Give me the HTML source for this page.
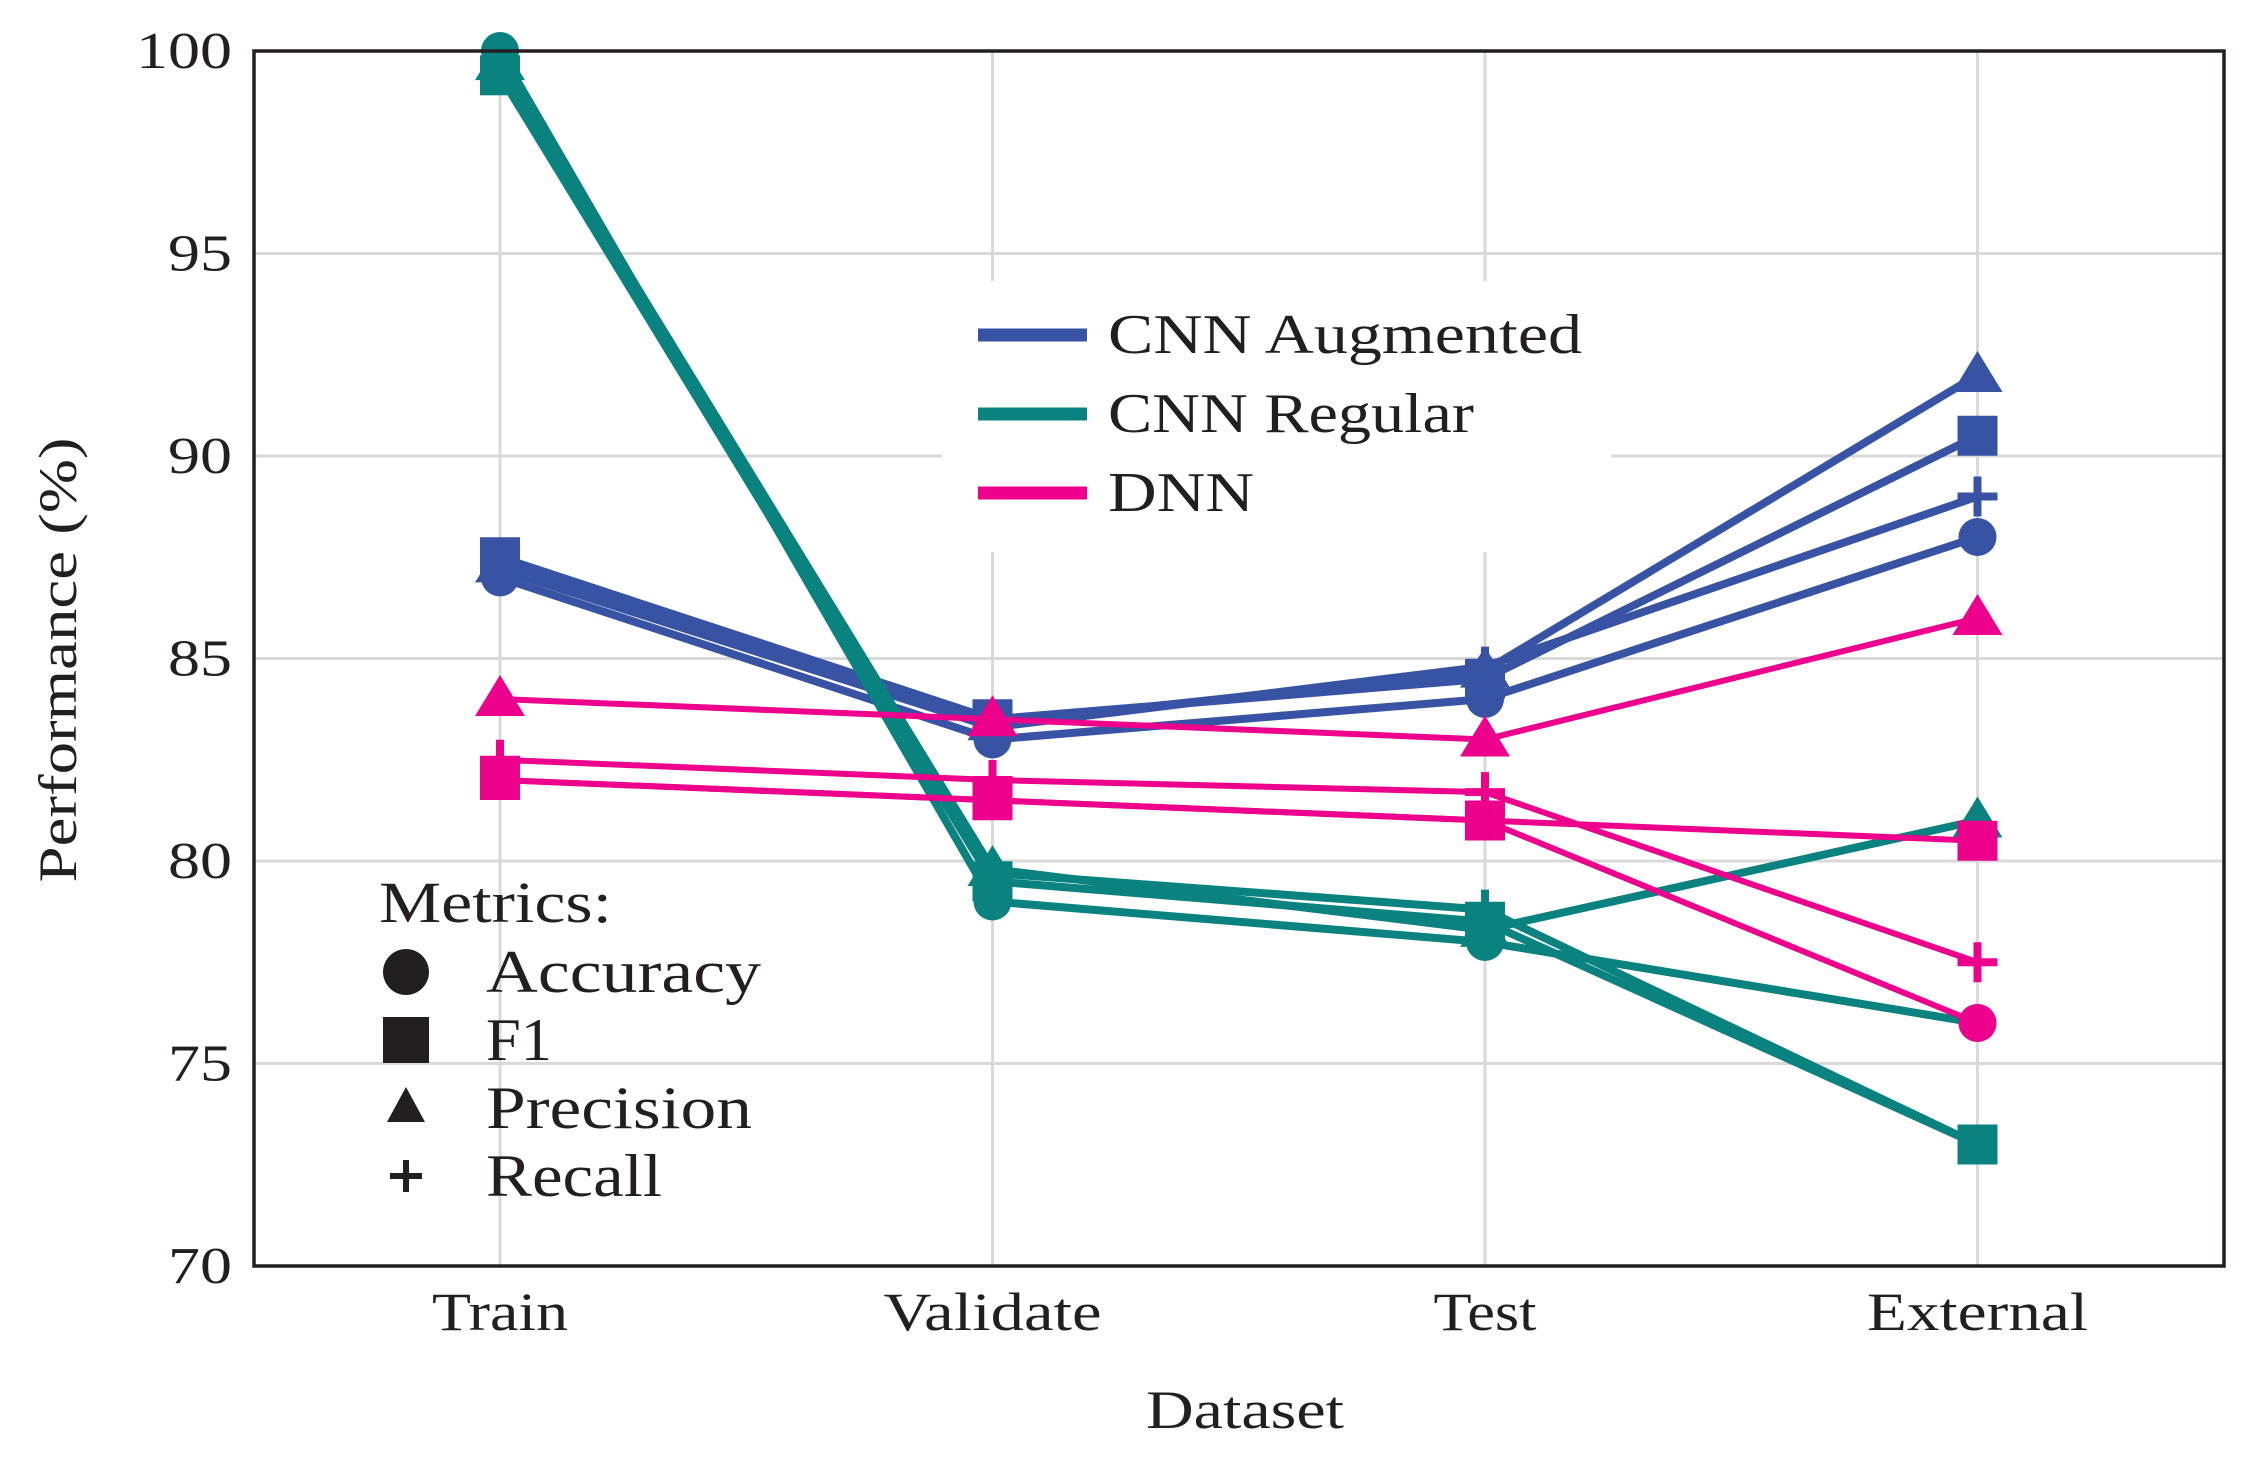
<!DOCTYPE html>
<html><head><meta charset="utf-8"><style>
html,body{margin:0;padding:0;background:#fff;}
svg{display:block;font-family:"Liberation Serif",serif;}
</style></head><body>
<svg id="chart" width="2256" height="1461" viewBox="0 0 2256 1461">
</svg>
<script>
const categories = ["Train","Validate","Test","External"];
const yTicks = [70,75,80,85,90,95,100];
const seriesNames = ["CNN Augmented","CNN Regular","DNN"];
const metricNames = ["Accuracy","F1","Precision","Recall"];
const augAccuracy = [87,83,84,88];
const augF1 = [87.5,83.5,84.5,90.5];
const augPrecision = [87.3,83.4,84.7,92];
const augRecall = [87.2,83.3,84.8,89];
const regAccuracy = [100,79,78,76];
const regF1 = [99.4,79.5,78.5,73];
const regPrecision = [99.7,79.8,78.3,81];
const regRecall = [99.6,79.7,78.8,73];
const dnnAccuracy = [82,81.5,81,76];
const dnnF1 = [82,81.5,81,80.5];
const dnnPrecision = [84,83.5,83,86];
const dnnRecall = [82.5,82,81.7,77.5];

const NS="http://www.w3.org/2000/svg";
const svg=document.getElementById('chart');
const L=254,R=2224,T=51,B=1266;
const x0=500,xStep=492.5;
function xs(i){return x0+i*xStep;}
function ys(v){return B-(v-70)/30*(B-T);}
function el(tag,attrs,parent){const e=document.createElementNS(NS,tag);for(const k in attrs)e.setAttribute(k,attrs[k]);(parent||svg).appendChild(e);return e;}
function fit(t,w){t.setAttribute('textLength',w);t.setAttribute('lengthAdjust','spacingAndGlyphs');}

const grid=el('g',{});


yTicks.forEach(v=>{const g=el('line',{x1:L,x2:R,y1:ys(v),y2:ys(v),stroke:'#d9d9d9','stroke-width':3},grid);

});
categories.forEach((c,i)=>{const g=el('line',{x1:xs(i),x2:xs(i),y1:T,y2:B,stroke:'#d9d9d9','stroke-width':3},grid);

});
const lb=el('rect',{x:942,y:281,width:669,height:271,fill:'#fff'});



const colors={"CNN Augmented":"#3853a4","CNN Regular":"#0a827f","DNN":"#ec008c"};
const widths={"CNN Augmented":8,"CNN Regular":8,"DNN":6};
const data={
 "CNN Augmented":[augAccuracy,augF1,augPrecision,augRecall],
 "CNN Regular":[regAccuracy,regF1,regPrecision,regRecall],
 "DNN":[dnnAccuracy,dnnF1,dnnPrecision,dnnRecall]};
function marker(kind,cx,cy,color,parent){
 let m;
 if(kind===0) m=el('circle',{cx:cx,cy:cy,r:19,fill:color},parent);
 else if(kind===1) m=el('rect',{x:cx-20,y:cy-20,width:40,height:40,fill:color},parent);
 else if(kind===2) m=el('polygon',{points:`${cx},${cy-24} ${cx+25},${cy+17} ${cx-25},${cy+17}`,fill:color},parent);
 else m=el('path',{d:`M${cx-20},${cy}H${cx+20}M${cx},${cy-20}V${cy+20}`,stroke:color,'stroke-width':8,fill:'none'},parent);
 return m;
}
["CNN Augmented","CNN Regular","DNN"].forEach(s=>{
 const g=el('g',{});
 
 
 data[s].forEach((vals,mi)=>{
  const p=el('polyline',{points:vals.map((v,i)=>xs(i)+','+ys(v)).join(' '),fill:'none',stroke:colors[s],'stroke-width':widths[s],'stroke-linejoin':'round'},g);
  
  
  vals.forEach((v,i)=>{const m=marker(mi,xs(i),ys(v),colors[s],g);
   
   });
 });
});

const fr=el('rect',{x:L,y:T,width:R-L,height:B-T,fill:'none',stroke:'#231f20','stroke-width':3.5});


yTicks.forEach(v=>{const t=el('text',{x:L-22,y:ys(v)+17,'text-anchor':'end','font-size':52,fill:'#231f20'});t.textContent=v;
fit(t,String(v).length*32);

});
const catW=[136,218,103,221];
categories.forEach((c,i)=>{const t=el('text',{x:xs(i),y:1330,'text-anchor':'middle','font-size':54,fill:'#231f20'});t.textContent=c;
fit(t,catW[i]);

});
const xt=el('text',{x:1245,y:1428,'text-anchor':'middle','font-size':54,fill:'#231f20'});xt.textContent='Dataset';
fit(xt,198);


const yt=el('text',{x:0,y:0,'text-anchor':'middle','font-size':54,fill:'#231f20',transform:'translate(76,660) rotate(-90)'});yt.textContent='Performance (%)';
fit(yt,445);



const legW=[474,366,146];
seriesNames.forEach((s,i)=>{const y=335+i*79;
 const g=el('g',{});
 
 
 el('line',{x1:978,x2:1087,y1:y,y2:y,stroke:colors[s],'stroke-width':13},g);
 const t=el('text',{x:1108,y:y+18,'font-size':56,fill:'#231f20'},g);t.textContent=s;
 fit(t,legW[i]);});

const mt=el('text',{x:379,y:922,'font-size':58,fill:'#231f20'});mt.textContent='Metrics:';
fit(mt,233);


const metW=[275,66,266,176];
metricNames.forEach((m,i)=>{const y=972+i*68;
 const g=el('g',{});
 
 
 if(i===0) el('circle',{cx:406,cy:y,r:23,fill:'#231f20'},g);
 else if(i===1) el('rect',{x:383,y:y-23,width:46,height:46,fill:'#231f20'},g);
 else if(i===2) el('polygon',{points:`406,${y-21} 425,${y+14} 387,${y+14}`,fill:'#231f20'},g);
 else el('path',{d:`M390,${y}H422M406,${y-16}V${y+16}`,stroke:'#231f20','stroke-width':6},g);
 const t=el('text',{x:486,y:y+20,'font-size':60,fill:'#231f20'},g);t.textContent=m;
 fit(t,metW[i]);});
</script>
</body></html>
